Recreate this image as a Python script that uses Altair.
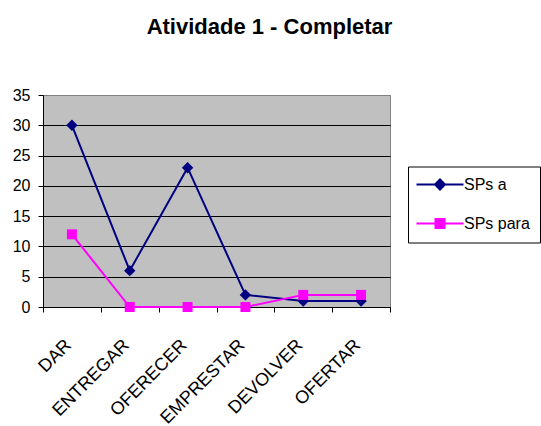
import altair as alt
import pandas as pd

# Chart data
categories = ["DAR", "ENTREGAR", "OFERECER", "EMPRESTAR", "DEVOLVER", "OFERTAR"]
sps_a = [30, 6, 23, 2, 1, 1]
sps_para = [12, 0, 0, 0, 2, 2]
series_names = ["SPs a", "SPs para"]
series_colors = ["#000080", "#FF00FF"]
y_ticks = [0, 5, 10, 15, 20, 25, 30, 35]

rows = []
for name, vals in zip(series_names, [sps_a, sps_para]):
    for cat, val in zip(categories, vals):
        rows.append({"verbo": cat, "serie": name, "valor": val})
df = pd.DataFrame(rows)

FONT = "Liberation Sans"

x_enc = alt.X(
    "verbo:N",
    sort=categories,
    scale=alt.Scale(type="band", paddingInner=0, paddingOuter=0),
    axis=alt.Axis(
        title=None,
        labelAngle=-45,
        labelAlign="right",
        labelBaseline="top",
        labelFont=FONT,
        labelFontSize=18,
        labelColor="black",
        labelPadding=24,
        labelOffset=-10,
        tickBand="extent",
        tickSize=5,
        tickColor="black",
        domainColor="black",
        labelOverlap=False,
        grid=False,
    ),
)

y_enc = alt.Y(
    "valor:Q",
    scale=alt.Scale(domain=[0, 35], nice=False),
    axis=alt.Axis(
        title=None,
        values=y_ticks,
        grid=True,
        gridColor={"condition": {"test": "datum.value === 35", "value": "#808080"}, "value": "black"},
        gridOpacity=1,
        labelFont=FONT,
        labelFontSize=16,
        labelColor="black",
        labelPadding=8,
        tickSize=5,
        tickColor="black",
        domainColor="black",
    ),
)

# Series colours (domain taken from the data, alphabetical = series order)
color_enc = alt.Color(
    "serie:N",
    scale=alt.Scale(range=series_colors),
    legend=None,
)

base = alt.Chart(df)

lines = base.mark_line(strokeWidth=2).encode(x=x_enc, y=y_enc, color=color_enc)

# Markers: navy diamonds for "SPs a", magenta squares for "SPs para"
points_a = (
    base.transform_filter(alt.datum.serie == series_names[0])
    .mark_point(filled=True, opacity=1, shape="diamond", size=130)
    .encode(x=x_enc, y=y_enc, color=color_enc)
)
points_para = (
    base.transform_filter(alt.datum.serie == series_names[1])
    .mark_point(filled=True, opacity=1, shape="square", size=100)
    .encode(x=x_enc, y=y_enc, color=color_enc)
)

# Legend symbols: a line segment with the series marker in the middle
legend_paths = [
    "M-4.7,0H4.7M-1,0L0,-1L1,0L0,1Z",
    "M-4.7,0H4.7M-0.9,-0.9H0.9V0.9H-0.9Z",
]
legend_style = dict(
    title=None,
    orient="none",
    legendX=365,
    legendY=71.5,
    padding=10,
    strokeColor="black",
    fillColor="white",
    cornerRadius=0,
    symbolSize=100,
    symbolStrokeWidth=2,
    symbolOpacity=1,
    symbolOffset=14,
    labelOffset=16,
    labelFont=FONT,
    labelFontSize=16,
    labelColor="black",
    rowPadding=21,
)

# Layer without rows that only carries the legend
legend_layer = base.transform_filter("false").mark_point(filled=True, opacity=1).encode(
    x=x_enc,
    y=y_enc,
    fill=alt.Fill(
        "serie:N",
        scale=alt.Scale(domain=series_names, range=series_colors),
        legend=alt.Legend(**legend_style),
    ),
    stroke=alt.Stroke(
        "serie:N",
        scale=alt.Scale(domain=series_names, range=series_colors),
        legend=alt.Legend(**legend_style),
    ),
    shape=alt.Shape(
        "serie:N",
        scale=alt.Scale(domain=series_names, range=legend_paths),
        legend=alt.Legend(**legend_style),
    ),
)

chart = (
    alt.layer(lines, points_a, points_para, legend_layer)
    .properties(
        width=347,
        height=212,
        autosize=alt.AutoSizeParams(type="none"),
        padding={"left": 43, "top": 95, "right": 151, "bottom": 119},
        background="white",
        title=alt.TitleParams(
            "Atividade 1 - Completar",
            font=FONT,
            fontSize=22,
            fontWeight="bold",
            color="black",
            anchor="middle",
            dx=53,
            baseline="bottom",
            offset=26,
        ),
    )
    .configure_view(fill="#C0C0C0", stroke="#808080", strokeWidth=1)
)

chart.save("out.html", embed_options={"renderer": "svg", "actions": False})
